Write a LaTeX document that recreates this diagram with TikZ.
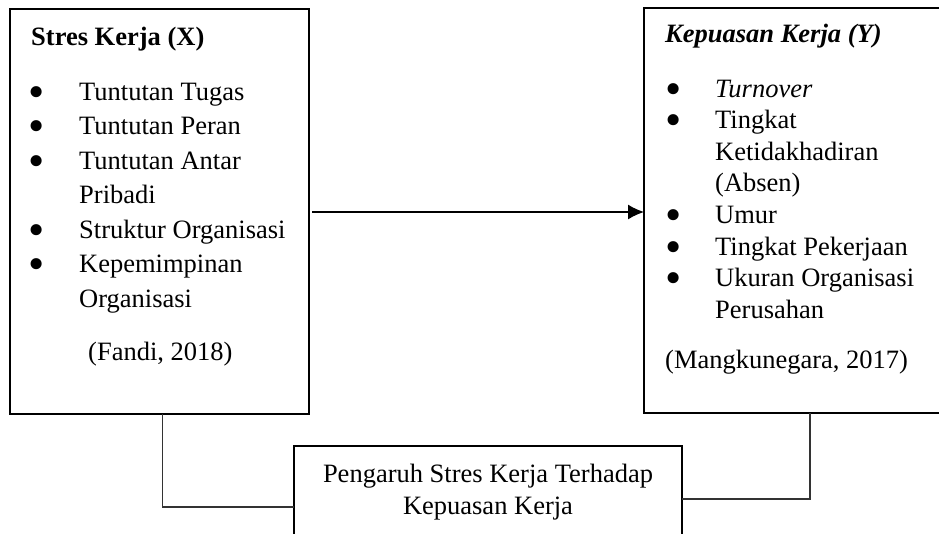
\documentclass[tikz,border=0pt]{standalone}
\usepackage{fontspec}
\setmainfont{Liberation Serif}
\usetikzlibrary{arrows.meta}

% larger list bullet, as in the word-processor original
\newcommand{\bul}{\hspace*{-3pt}\smash{\raisebox{-7pt}{\scalebox{1.75}{\textbullet}}}}

\tikzset{
  varbox/.style={draw, line width=1.8pt, inner sep=0pt, outer sep=0pt,
                 anchor=north west},
  boxtext/.style={inner sep=0pt, anchor=base west},
  link/.style={draw=black!80, line width=1.3pt}
}

\begin{document}
\begin{tikzpicture}[x=1pt, y=-1pt]
    \useasboundingbox (0,0) rectangle (939,533);
    \clip (0,0) rectangle (939,533);

    % --- the two variable boxes ----------------------------------------
    \node[varbox, minimum width=299pt, minimum height=405pt] (stres) at (10,9) {};
    \node[varbox, minimum width=306pt, minimum height=405pt] (kepuasan) at (644,8) {};

    % Stres Kerja (X)
    \node[boxtext, font=\fontsize{26.5}{34.5}\selectfont] (stresTitle) at (31,45)
      {\textbf{Stres Kerja (X)}};
    \node[boxtext, font=\fontsize{26.5}{34.5}\selectfont] (stresList) at (31,100)
      {\begin{tabular}[t]{@{}p{48pt}@{}l@{}}
        \bul & Tuntutan Tugas\\
        \bul & Tuntutan Peran\\
        \bul & Tuntutan Antar\\
             & Pribadi\\
        \bul & Struktur Organisasi\\
        \bul & Kepemimpinan\\
             & Organisasi
       \end{tabular}};
    \node[boxtext, font=\fontsize{26.5}{34.5}\selectfont] (stresRef) at (88,360)
      {(Fandi, 2018)};

    % Kepuasan Kerja (Y)
    \node[boxtext, font=\fontsize{26.5}{31.6}\selectfont] (kepTitle) at (665,42)
      {\textbf{\textit{Kepuasan Kerja (Y)}}};
    \node[boxtext, font=\fontsize{26.5}{31.6}\selectfont] (kepList) at (668,97)
      {\begin{tabular}[t]{@{}p{47pt}@{}l@{}}
        \bul & \textit{Turnover}\\
        \bul & Tingkat\\
             & Ketidakhadiran\\
             & (Absen)\\
        \bul & Umur\\
        \bul & Tingkat Pekerjaan\\
        \bul & Ukuran Organisasi\\
             & Perusahan
       \end{tabular}};
    \node[boxtext, font=\fontsize{26.5}{31.6}\selectfont] (kepRef) at (665,368)
      {(Mangkunegara, 2017)};

    % --- result box, cut by the page edge -------------------------------
    \node[varbox, line width=2.6pt, minimum width=388pt, minimum height=120pt]
      (pengaruh) at (294,446) {};
    \node[inner sep=0pt, anchor=base, font=\fontsize{26.5}{32}\selectfont]
      (pengaruhText) at (488,482)
      {\begin{tabular}[t]{@{}c@{}}
        Pengaruh Stres Kerja Terhadap\\
        Kepuasan Kerja
       \end{tabular}};

    % --- connectors -----------------------------------------------------
    \draw[line width=1.3pt, shorten <=3pt, -{Latex[length=16pt, width=15pt]}]
      (stres.east |- 0,212) -- (kepuasan.west |- 0,212);
    \draw[link] (stres.south -| 162.7,0) |- (pengaruh.west |- 0,507);
    \draw[link] (pengaruh.east |- 0,499) -| (kepuasan.south -| 810,0);
\end{tikzpicture}
\end{document}
